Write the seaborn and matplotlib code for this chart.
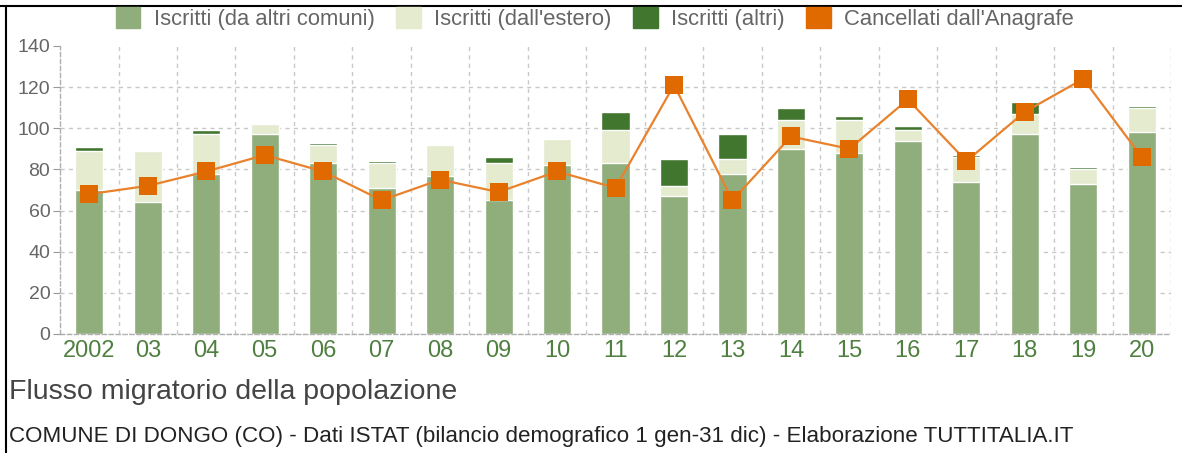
import numpy as np
import pandas as pd
import seaborn as sns
import matplotlib.pyplot as plt
from matplotlib.patches import Patch
from matplotlib.lines import Line2D

# values (Dongo, 2002-2020)
anni = ["2002", "03", "04", "05", "06", "07", "08", "09", "10", "11",
        "12", "13", "14", "15", "16", "17", "18", "19", "20"]
da_altri_comuni = [70, 64, 78, 97, 83, 71, 77, 65, 82, 83, 67, 78, 90, 88, 94, 74, 97, 73, 98]
dall_estero = [19, 25, 19, 5, 9, 12, 15, 18, 13, 16, 5, 7, 14, 16, 5, 12, 10, 7, 12]
altri = [2, 0, 2, 0, 1, 1, 0, 3, 0, 9, 13, 12, 6, 2, 2, 1, 6, 1, 1]
cancellati = [68, 72, 79, 87, 79, 65, 75, 69, 79, 71, 121, 65, 96, 90, 114, 84, 108, 124, 86]

c_comuni = "#8fae7b"
c_estero = "#e4ebcf"
c_altri = "#41762f"
c_canc = "#e06a00"

df = pd.DataFrame({"anno": anni, "comuni": da_altri_comuni,
                   "estero": dall_estero, "altri": altri, "cancellati": cancellati})
# stacked tops, drawn tallest first so the shorter bars cover them
df["top_estero"] = df["comuni"] + df["estero"]
df["top_altri"] = df["top_estero"] + df["altri"]
df["pos"] = np.arange(len(df))

sns.set_style("white")
plt.rcParams["font.family"] = ["Liberation Sans", "DejaVu Sans"]

fig = plt.figure(figsize=(11.82, 4.53), dpi=100)
ax = fig.add_axes([0.0508, 0.2627, 0.9399, 0.6358])

bw = 0.48
sns.barplot(data=df, x="anno", y="top_altri", color=c_altri, width=bw, saturation=1, ax=ax, zorder=2)
sns.barplot(data=df, x="anno", y="top_estero", color=c_estero, width=bw, saturation=1, ax=ax, zorder=2)
sns.barplot(data=df, x="anno", y="comuni", color=c_comuni, width=bw, saturation=1, ax=ax, zorder=2)
sns.lineplot(data=df, x="pos", y="cancellati", color="#e8822c", linewidth=1.6, ax=ax, zorder=3)
sns.lineplot(data=df, x="pos", y="cancellati", color=c_canc, linewidth=0, marker="s",
             markersize=13, markeredgewidth=0, ax=ax, zorder=4)

ax.set_xlim(-0.5, len(anni) - 0.5)
ax.set_ylim(0, 140)
ax.set_yticks(range(0, 141, 20))
ax.set_xticks(range(len(anni)))
ax.set_xticks(np.arange(0.5, len(anni), 1), minor=True)
ax.set_xticklabels(anni)
ax.set_xlabel("")
ax.set_ylabel("")

ax.grid(axis="y", which="major", color="#c8c8c8", linestyle=(0, (3, 3)), linewidth=1, zorder=0)
ax.grid(axis="x", which="minor", color="#c8c8c8", linestyle=(0, (3, 3)), linewidth=1, zorder=0)
ax.grid(axis="x", which="major", visible=False)
ax.get_ygridlines()[-1].set_visible(False)
ax.set_axisbelow(True)

for s in ["top", "right"]:
    ax.spines[s].set_visible(False)
for s in ["left", "bottom"]:
    ax.spines[s].set_color("#b0b0b0")
    ax.spines[s].set_linestyle((0, (3, 2)))
    ax.spines[s].set_linewidth(1)

ax.tick_params(axis="y", which="major", length=5, color="#999999", labelsize=14,
               labelcolor="#666666", pad=2, left=True)
ax.tick_params(axis="x", which="major", length=0, labelsize=17, labelcolor="#4f8040", pad=4)
ax.tick_params(axis="x", which="minor", length=0)

handles = [Patch(color=c_comuni, label="Iscritti (da altri comuni)"),
           Patch(color=c_estero, label="Iscritti (dall'estero)"),
           Patch(color=c_altri, label="Iscritti (altri)"),
           Patch(color=c_canc, label="Cancellati dall'Anagrafe")]
leg = fig.legend(handles=handles, loc="upper center", bbox_to_anchor=(0.503, 0.984), ncol=4,
                 frameon=False, fontsize=15.8, handlelength=1.13, handleheight=1.05,
                 handletextpad=0.6, columnspacing=0.98, borderaxespad=0, borderpad=0)
for t in leg.get_texts():
    t.set_color("#666666")

fig.text(0.008, 0.135, "Flusso migratorio della popolazione", fontsize=20.5,
         color="#444444", va="center", ha="left")
fig.text(0.008, 0.036, "COMUNE DI DONGO (CO) - Dati ISTAT (bilancio demografico 1 gen-31 dic) - Elaborazione TUTTITALIA.IT",
         fontsize=16.1, color="#222222", va="center", ha="left")

# frame lines at the top and left edge of the image
fig.add_artist(Line2D([0, 1], [0.9868, 0.9868], color="black", linewidth=1.5, transform=fig.transFigure))
fig.add_artist(Line2D([0.0051, 0.0051], [0, 0.9868], color="black", linewidth=1.5, transform=fig.transFigure))

fig.savefig("out.png", dpi=100)
